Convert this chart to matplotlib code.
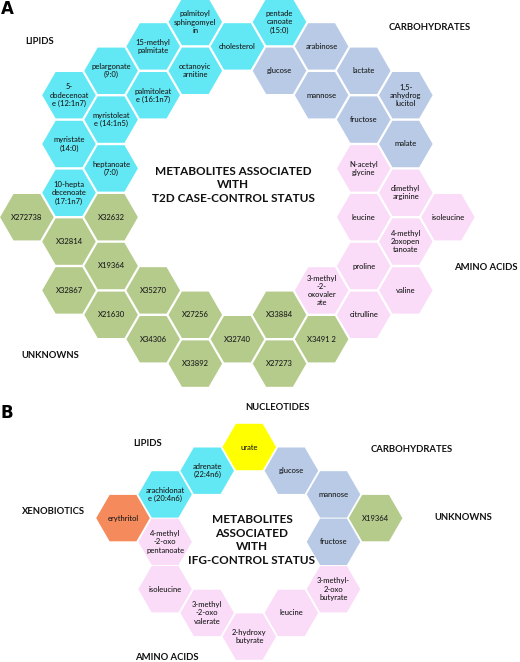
import numpy as np
import matplotlib
matplotlib.use("Agg")
import matplotlib.pyplot as plt
from matplotlib.patches import RegularPolygon

plt.rcParams['font.family'] = ['Lato', 'DejaVu Sans']

colors = {"lip": "#62E8F4", "carb": "#B8CAE6", "amino": "#FADCF8",
          "unk": "#B5CB8C", "nuc": "#FFFF00", "xeno": "#F58A5C"}

# Panel A: name, group, lattice column, half-row index
a_names = ["palmitoyl\nsphingomyel\nin", "pentade\ncanoate\n(15:0)", "15-methyl\npalmitate", "cholesterol",
           "octanoyic\narnitine", "pelargonate\n(9:0)", "palmitoleat\ne (16:1n7)", "5-\ndodecenoat\ne (12:1n7)",
           "myristoleat\ne (14:1n5)", "myristate\n(14:0)", "heptanoate\n(7:0)", "10-hepta\ndecenoate\n(17:1n7)",
           "arabinose", "glucose", "lactate", "mannose", "1,5-\nanhydrog\nlucitol", "fructose", "malate",
           "N-acetyl\nglycine", "dimethyl\narginine", "leucine", "isoleucine", "4-methyl\n2oxopen\ntanoate",
           "proline", "valine", "citrulline", "3-methyl\n-2-\noxovaler\nate",
           "X272738", "X32632", "X32814", "X19364", "X32867", "X35270", "X21630", "X27256",
           "X34306", "X32740", "X33892", "X33884", "X3491 2", "X27273"]
a_groups = ["lip"] * 12 + ["carb"] * 7 + ["amino"] * 9 + ["unk"] * 14
a_cols = [3, 5, 2, 4, 3, 1, 2, 0, 1, 0, 1, 0,
          6, 5, 7, 6, 8, 7, 8,
          7, 8, 7, 9, 8, 7, 8, 7, 6,
          -1, 1, 0, 1, 0, 2, 1, 3, 2, 4, 3, 5, 6, 5]
a_rows = [0, 0, 1, 1, 2, 2, 3, 3, 4, 5, 6, 7,
          1, 2, 2, 3, 3, 4, 5,
          6, 7, 8, 8, 9, 10, 11, 12, 11,
          8, 8, 9, 10, 11, 11, 12, 12, 13, 13, 14, 12, 13, 14]

# Panel B
b_names = ["urate", "glucose", "adrenate\n(22:4n6)", "mannose", "arachidonat\ne (20:4n6)", "erythritol",
           "X19364", "fructose", "4-methyl\n-2-oxo\npentanoate", "3-methyl-\n2-oxo\nbutyrate",
           "isoleucine", "leucine", "3-methyl\n-2-oxo\nvalerate", "2-hydroxy\nbutyrate"]
b_groups = ["nuc", "carb", "lip", "carb", "lip", "xeno", "unk", "carb", "amino", "amino",
            "amino", "amino", "amino", "amino"]
b_cols = [3, 4, 2, 5, 1, 0, 6, 5, 1, 5, 1, 4, 2, 3]
b_rows = [0, 1, 1, 2, 2, 3, 3, 4, 4, 6, 6, 7, 7, 8]

fig = plt.figure(figsize=(5.2, 6.62), dpi=100)
ax = fig.add_axes([0, 0, 1, 1])
ax.set_xlim(0, 520)
ax.set_ylim(662, 0)
ax.axis('off')

DX = 42.1

def draw(names, groups, cols, rows, x0, y0, dy):
    for n, g, c, r in zip(names, groups, cols, rows):
        x = x0 + c * DX
        y = y0 + r * dy
        ax.add_patch(RegularPolygon((x, y), 6, radius=26.8, orientation=np.pi / 6,
                                    facecolor=colors[g], edgecolor='none'))
        ax.text(x, y, n, ha='center', va='center', fontsize=5.5, color='#1a1a1a',
                linespacing=1.2, fontweight='medium')

draw(a_names, a_groups, a_cols, a_rows, 69, 22, 24.4)
draw(b_names, b_groups, b_cols, b_rows, 123, 447, 23.7)

lab = dict(ha='center', va='center', fontsize=6.8, fontweight='bold', color='#111111')
ax.text(40, 41, "LIPIDS", **lab)
ax.text(430, 27, "CARBOHYDRATES", **lab)
ax.text(518, 267, "AMINO ACIDS", **{**lab, 'ha': 'right'})
ax.text(50, 355, "UNKNOWNS", **lab)
ax.text(233, 185, "METABOLITES ASSOCIATED\nWITH\nT2D CASE-CONTROL STATUS", ha='center', va='center',
        fontsize=8.5, fontweight='bold', color='#111111', linespacing=1.3)

ax.text(277, 408, "NUCLEOTIDES", **lab)
ax.text(148, 443, "LIPIDS", **lab)
ax.text(412, 449, "CARBOHYDRATES", **lab)
ax.text(53, 512, "XENOBIOTICS", **lab)
ax.text(463, 518, "UNKNOWNS", **lab)
ax.text(167, 657, "AMINO ACIDS", **lab)
ax.text(252, 540, "METABOLITES\nASSOCIATED\nWITH\nIFG-CONTROL STATUS", ha='center', va='center',
        fontsize=8.5, fontweight='bold', color='#111111', linespacing=1.3)

ax.text(1, 9, "A", ha='left', va='center', fontsize=12, fontweight='bold', family='DejaVu Sans')
ax.text(1, 413, "B", ha='left', va='center', fontsize=12, fontweight='bold', family='DejaVu Sans')

fig.savefig("out.png", dpi=100)
